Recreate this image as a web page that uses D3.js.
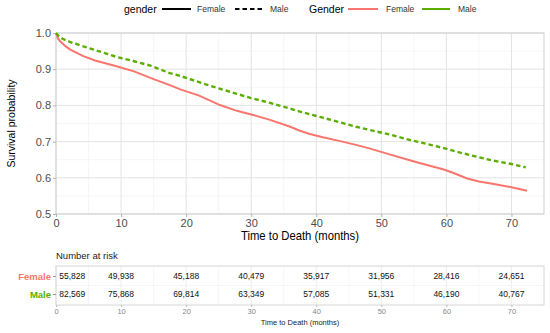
<!DOCTYPE html>
<html>
<head>
<meta charset="utf-8">
<script src="https://cdn.jsdelivr.net/npm/d3@7"></script>
<style>
  body { margin: 0; background: #fff; }
  svg text { font-family: "Liberation Sans", Arial, sans-serif; }
</style>
</head>
<body>
<svg id="chart" width="550" height="333"></svg>
<script>
// Survival curves
const femaleTime = [0, 0.3, 0.6, 1.5, 2.2, 4.2, 6, 9.3, 12, 14.5, 17.5, 19, 22, 25.2, 27.8, 30, 32.9, 36, 37.5, 39, 41, 43.5, 46.1, 48, 51.4, 54.5, 56, 59.6, 61, 63.2, 65, 67.3, 70, 72.4];
const femaleSurv = [1.0, 0.985, 0.978, 0.963, 0.954, 0.936, 0.924, 0.908, 0.894, 0.876, 0.856, 0.845, 0.827, 0.801, 0.785, 0.775, 0.76, 0.741, 0.73, 0.721, 0.712, 0.702, 0.691, 0.682, 0.664, 0.648, 0.64, 0.623, 0.614, 0.598, 0.59, 0.583, 0.574, 0.564];
const maleTime = [0, 0.5, 1, 2.2, 4.2, 6, 9.3, 12, 14.5, 17.5, 19, 22.7, 25, 27.8, 30, 32.9, 36, 37.5, 41, 43.5, 46.1, 48.5, 51.4, 54.5, 56, 59.6, 62, 64.7, 67, 70, 72.2];
const maleSurv = [1.0, 0.99, 0.984, 0.975, 0.963, 0.953, 0.934, 0.922, 0.91, 0.889, 0.882, 0.86, 0.847, 0.832, 0.82, 0.807, 0.791, 0.783, 0.766, 0.754, 0.741, 0.731, 0.719, 0.704, 0.698, 0.682, 0.67, 0.658, 0.648, 0.638, 0.629];

// Number at risk table
const riskGroups = ['Female', 'Male'];
const riskTime = [2.5, 10, 20, 30, 40, 50, 60, 70];
const femaleRisk = ['55,828', '49,938', '45,188', '40,479', '35,917', '31,956', '28,416', '24,651'];
const maleRisk = ['82,569', '75,868', '69,814', '63,349', '57,085', '51,331', '46,190', '40,767'];

const xTicks = [0, 10, 20, 30, 40, 50, 60, 70];
const yTicks = [0.5, 0.6, 0.7, 0.8, 0.9, 1.0];

const colors = { Female: '#F8766D', Male: '#5BAE00' };

const svg = d3.select('#chart');
const pLeft = 56, pRight = 544;
const pTop = 33, pBottom = 214;

const x = d3.scaleLinear().domain([0, 75]).range([pLeft, pRight]);
const y = d3.scaleLinear().domain([0.5, 1.0]).range([pBottom, pTop]);

// Main panel grid
const grid = svg.append('g');
d3.range(5, 75, 10).forEach(v => {
    grid.append('line').attr('x1', x(v)).attr('x2', x(v)).attr('y1', pTop).attr('y2', pBottom)
        .attr('stroke', '#f0f0f0').attr('stroke-width', 0.6);
});
d3.range(0.55, 1.0, 0.1).forEach(v => {
    grid.append('line').attr('x1', pLeft).attr('x2', pRight).attr('y1', y(v)).attr('y2', y(v))
        .attr('stroke', '#f0f0f0').attr('stroke-width', 0.6);
});
xTicks.forEach(v => {
    grid.append('line').attr('x1', x(v)).attr('x2', x(v)).attr('y1', pTop).attr('y2', pBottom)
        .attr('stroke', '#e3e3e3').attr('stroke-width', 1);
});
yTicks.forEach(v => {
    grid.append('line').attr('x1', pLeft).attr('x2', pRight).attr('y1', y(v)).attr('y2', y(v))
        .attr('stroke', '#e3e3e3').attr('stroke-width', 1);
});
svg.append('rect').attr('x', pLeft).attr('y', pTop).attr('width', pRight - pLeft).attr('height', pBottom - pTop)
    .attr('fill', 'none').attr('stroke', '#cfcfcf').attr('stroke-width', 1);

// Axes
const xAxis = svg.append('g').attr('transform', `translate(0,${pBottom})`)
    .call(d3.axisBottom(x).tickValues(xTicks).tickSize(3).tickPadding(2));
const yAxis = svg.append('g').attr('transform', `translate(${pLeft},0)`)
    .call(d3.axisLeft(y).tickValues(yTicks).tickFormat(d3.format('.1f')).tickSize(3).tickPadding(2));
[xAxis, yAxis].forEach(a => {
    a.select('.domain').remove();
    a.selectAll('line').attr('stroke', '#b3b3b3');
    a.selectAll('text').attr('fill', '#4d4d4d').style('font-size', '11px');
});

svg.append('text').attr('x', 300).attr('y', 240).attr('text-anchor', 'middle')
    .style('font-size', '13px').attr('fill', '#000')
    .attr('textLength', 118).attr('lengthAdjust', 'spacingAndGlyphs')
    .text('Time to Death (months)');
svg.append('text').attr('transform', `translate(15,${(pTop + pBottom) / 2}) rotate(-90)`)
    .attr('text-anchor', 'middle').style('font-size', '10.5px').attr('fill', '#000').text('Survival probability');

// Curves
const line = d3.line().x(d => x(d[0])).y(d => y(d[1]));
svg.append('path').datum(femaleTime.map((t, i) => [t, femaleSurv[i]]))
    .attr('d', line).attr('fill', 'none').attr('stroke', colors.Female).attr('stroke-width', 2);
svg.append('path').datum(maleTime.map((t, i) => [t, maleSurv[i]]))
    .attr('d', line).attr('fill', 'none').attr('stroke', colors.Male).attr('stroke-width', 2.4)
    .attr('stroke-dasharray', '4.5,3');

// Legend
const lg = svg.append('g');
const ly = 9;
lg.append('text').attr('x', 124).attr('y', ly + 3.5).style('font-size', '10.5px').text('gender');
lg.append('line').attr('x1', 162).attr('x2', 191).attr('y1', ly).attr('y2', ly).attr('stroke', '#000').attr('stroke-width', 2);
lg.append('text').attr('x', 197).attr('y', ly + 3).style('font-size', '8.5px').attr('fill', '#333').text('Female');
lg.append('line').attr('x1', 235).attr('x2', 263).attr('y1', ly).attr('y2', ly).attr('stroke', '#000').attr('stroke-width', 2)
    .attr('stroke-dasharray', '4.5,3');
lg.append('text').attr('x', 270).attr('y', ly + 3).style('font-size', '8.5px').attr('fill', '#333').text('Male');
lg.append('text').attr('x', 309).attr('y', ly + 3.5).style('font-size', '10.5px').text('Gender');
lg.append('line').attr('x1', 348).attr('x2', 378).attr('y1', ly).attr('y2', ly).attr('stroke', colors.Female).attr('stroke-width', 2);
lg.append('text').attr('x', 386).attr('y', ly + 3).style('font-size', '8.5px').attr('fill', '#333').text('Female');
lg.append('line').attr('x1', 422).attr('x2', 450).attr('y1', ly).attr('y2', ly).attr('stroke', colors.Male).attr('stroke-width', 2);
lg.append('text').attr('x', 458).attr('y', ly + 3).style('font-size', '8.5px').attr('fill', '#333').text('Male');

// Risk table
const tTop = 266, tBottom = 305;
const ry = d3.scalePoint().domain(riskGroups).range([276, 294]);

svg.append('text').attr('x', pLeft).attr('y', 259).style('font-size', '9.5px').attr('fill', '#222').text('Number at risk');

const tg = svg.append('g');
d3.range(5, 75, 10).forEach(v => {
    tg.append('line').attr('x1', x(v)).attr('x2', x(v)).attr('y1', tTop).attr('y2', tBottom)
        .attr('stroke', '#f0f0f0').attr('stroke-width', 0.6);
});
xTicks.forEach(v => {
    tg.append('line').attr('x1', x(v)).attr('x2', x(v)).attr('y1', tTop).attr('y2', tBottom)
        .attr('stroke', '#e8e8e8').attr('stroke-width', 0.8);
});
tg.append('line').attr('x1', pLeft).attr('x2', pRight).attr('y1', (tTop + tBottom) / 2).attr('y2', (tTop + tBottom) / 2)
    .attr('stroke', '#f0f0f0').attr('stroke-width', 0.6);
tg.append('rect').attr('x', pLeft).attr('y', tTop).attr('width', pRight - pLeft).attr('height', tBottom - tTop)
    .attr('fill', 'none').attr('stroke', '#d6d6d6').attr('stroke-width', 1);

const riskRows = { Female: femaleRisk, Male: maleRisk };
riskGroups.forEach(g => {
    tg.selectAll(null).data(riskRows[g]).enter().append('text')
        .attr('x', (d, i) => x(riskTime[i])).attr('y', ry(g) + 3)
        .attr('text-anchor', 'middle').style('font-size', '8.5px').attr('fill', '#111')
        .text(d => d);
});

const tyAxis = svg.append('g').attr('transform', `translate(${pLeft},0)`)
    .call(d3.axisLeft(ry).tickSize(3).tickPadding(2));
tyAxis.select('.domain').remove();
tyAxis.selectAll('line').attr('stroke', '#999');
tyAxis.selectAll('text').style('font-size', '9.5px').style('font-weight', 'bold')
    .attr('fill', d => colors[d]);

const txAxis = svg.append('g').attr('transform', `translate(0,${tBottom})`)
    .call(d3.axisBottom(x).tickValues(xTicks).tickSize(2).tickPadding(2));
txAxis.select('.domain').remove();
txAxis.selectAll('line').attr('stroke', '#bbb');
txAxis.selectAll('text').style('font-size', '7.5px').attr('fill', '#888');

svg.append('text').attr('x', 300).attr('y', 325).attr('text-anchor', 'middle')
    .style('font-size', '7.5px').attr('fill', '#222').text('Time to Death (months)');
</script>
</body>
</html>
